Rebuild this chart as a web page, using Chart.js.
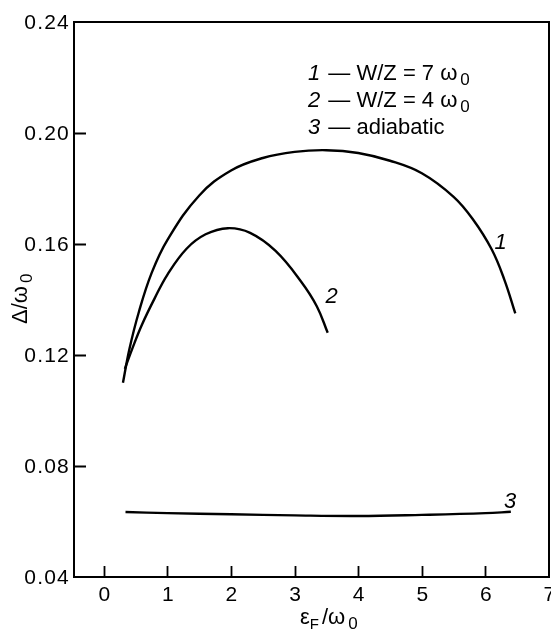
<!DOCTYPE html>
<html>
<head>
<meta charset="utf-8">
<script src="https://cdn.jsdelivr.net/npm/chart.js@4.4.1/dist/chart.umd.min.js"></script>
<style>
  html, body { margin: 0; padding: 0; background: #fff; }
  #wrap { width: 551px; height: 641px; }
</style>
</head>
<body>
<div id="wrap"><canvas id="chart"></canvas></div>
<script>
// -------------------------------
// DATA
// -------------------------------
const xTicks = [0, 1, 2, 3, 4, 5, 6, 7];
const yTicks = [0.04, 0.08, 0.12, 0.16, 0.20, 0.24];

// curve 1 : W/Z = 7 w0
const curve1X = [0.30, 0.40, 0.55, 0.75, 1.0, 1.5, 2.0, 2.5, 3.0, 3.5, 4.0, 4.5, 5.0, 5.5, 5.8, 6.1, 6.3, 6.47];
const curve1Y = [0.110, 0.122, 0.1355, 0.1495, 0.1615, 0.1775, 0.1865, 0.191, 0.1932, 0.1938, 0.1928, 0.190, 0.1855, 0.177, 0.169, 0.158, 0.147, 0.135];

// curve 2 : W/Z = 4 w0
const curve2X = [0.33, 0.45, 0.6, 0.8, 1.0, 1.3, 1.6, 1.95, 2.3, 2.7, 3.1, 3.35, 3.52];
const curve2Y = [0.115, 0.1225, 0.131, 0.1405, 0.149, 0.1583, 0.1635, 0.1657, 0.1640, 0.1575, 0.1465, 0.1375, 0.128];

// curve 3 : adiabatic
const curve3X = [0.34, 1, 2, 3, 4, 5, 6, 6.4];
const curve3Y = [0.0634, 0.0630, 0.0626, 0.0622, 0.0620, 0.0624, 0.0630, 0.0635];

const curveNames = ["1", "2", "3"];
const curveLabelX = [6.24, 3.58, 6.39];
const curveLabelY = [0.1604, 0.141, 0.0671];

const toPoints = (xs, ys) => xs.map((v, i) => ({ x: v, y: ys[i] }));

const FONT = '"Liberation Sans", Arial, Helvetica, sans-serif';

// draw a run of text pieces (for subscripts)
function drawRun(ctx, parts, x, y) {
    let cx = x;
    parts.forEach(p => {
        ctx.font = p.font;
        cx += p.gap || 0;
        ctx.fillText(p.t, cx, y + (p.dy || 0));
        cx += ctx.measureText(p.t).width;
    });
    return cx;
}

// -------------------------------
// FRAME, TICKS, TEXT
// -------------------------------
const figurePlugin = {
    id: "figureText",
    afterDatasetsDraw(chart) {
        const { ctx, chartArea: a, scales } = chart;
        const xs = scales.x, ys = scales.y;
        ctx.save();
        ctx.fillStyle = "#000";
        ctx.strokeStyle = "#000";

        // box
        ctx.lineWidth = 2;
        ctx.strokeRect(a.left, a.top, a.right - a.left, a.bottom - a.top);

        // inward ticks
        ctx.lineWidth = 1.8;
        ctx.beginPath();
        xs.ticks.forEach(t => {
            const px = Math.round(xs.getPixelForValue(t.value)) + 0.5;
            if (t.value > 6.9) return;
            ctx.moveTo(px, a.bottom);
            ctx.lineTo(px, a.bottom - 11);
        });
        ys.ticks.forEach(t => {
            const py = Math.round(ys.getPixelForValue(t.value)) + 0.5;
            if (t.value < 0.05 || t.value > 0.23) return;
            ctx.moveTo(a.left, py);
            ctx.lineTo(a.left + 12, py);
        });
        ctx.stroke();

        // tick labels
        ctx.font = "21px " + FONT;
        if ("letterSpacing" in ctx) ctx.letterSpacing = "1.2px";
        ctx.textBaseline = "middle";
        ctx.textAlign = "right";
        ys.ticks.forEach(t => {
            ctx.fillText(t.value.toFixed(2), a.left - 4, ys.getPixelForValue(t.value) + 1);
        });
        ctx.textAlign = "center";
        xs.ticks.forEach(t => {
            ctx.fillText(String(t.value), xs.getPixelForValue(t.value) + 1, a.bottom + 18);
        });
        if ("letterSpacing" in ctx) ctx.letterSpacing = "0px";

        // curve numbers
        ctx.font = "italic 22px " + FONT;
        curveNames.forEach((n, i) => {
            ctx.fillText(n, xs.getPixelForValue(curveLabelX[i]), ys.getPixelForValue(curveLabelY[i]));
        });

        // legend block
        ctx.textAlign = "left";
        ctx.textBaseline = "alphabetic";
        const f = "22px " + FONT, fi = "italic 22px " + FONT, fs = "17px " + FONT;
        const lx = a.left + 234, ly = a.top + 58;
        drawRun(ctx, [
            { t: "1", font: fi }, { t: " \u2014 W/Z = 7 \u03c9", font: f, gap: 2 }, { t: "0", font: fs, dy: 5, gap: 3 }
        ], lx, ly);
        drawRun(ctx, [
            { t: "2", font: fi }, { t: " \u2014 W/Z = 4 \u03c9", font: f, gap: 2 }, { t: "0", font: fs, dy: 5, gap: 3 }
        ], lx, ly + 27);
        drawRun(ctx, [
            { t: "3", font: fi }, { t: " \u2014 adiabatic", font: f, gap: 2 }
        ], lx, ly + 54);

        // x axis title
        const xt = 300, yt = 624;
        drawRun(ctx, [
            { t: "\u03b5", font: "22px " + FONT },
            { t: "F", font: "15px " + FONT, dy: 5 },
            { t: "/\u03c9", font: "22px " + FONT, gap: 3 },
            { t: "0", font: "17px " + FONT, dy: 5, gap: 3 }
        ], xt, yt);

        // y axis title (rotated)
        ctx.translate(27, 324);
        ctx.rotate(-Math.PI / 2);
        drawRun(ctx, [
            { t: "\u0394/\u03c9", font: "22px " + FONT },
            { t: "0", font: "17px " + FONT, dy: 5, gap: 3 }
        ], 0, 0);

        ctx.restore();
    }
};

// -------------------------------
// CHART
// -------------------------------
const lineStyle = {
    showLine: true,
    borderColor: "#000",
    borderWidth: 2.4,
    pointRadius: 0,
    fill: false,
    tension: 0.4
};

new Chart(document.getElementById("chart"), {
    type: "scatter",
    data: {
        datasets: [
            { label: "1", data: toPoints(curve1X, curve1Y), ...lineStyle },
            { label: "2", data: toPoints(curve2X, curve2Y), ...lineStyle },
            { label: "3", data: toPoints(curve3X, curve3Y), ...lineStyle }
        ]
    },
    options: {
        responsive: true,
        maintainAspectRatio: false,
        animation: false,
        layout: { padding: { top: 22, right: 2, left: 0, bottom: 0 } },
        plugins: { legend: { display: false }, tooltip: { enabled: false } },
        scales: {
            x: {
                type: "linear",
                min: -0.47,
                max: 7,
                grid: { display: false },
                border: { display: false },
                ticks: { display: false },
                afterBuildTicks: s => { s.ticks = xTicks.map(v => ({ value: v })); },
                afterFit: s => { s.height = 64; }
            },
            y: {
                type: "linear",
                min: 0.04,
                max: 0.24,
                grid: { display: false },
                border: { display: false },
                ticks: { display: false },
                afterBuildTicks: s => { s.ticks = yTicks.map(v => ({ value: v })); },
                afterFit: s => { s.width = 74; }
            }
        }
    },
    plugins: [figurePlugin]
});
</script>
</body>
</html>
